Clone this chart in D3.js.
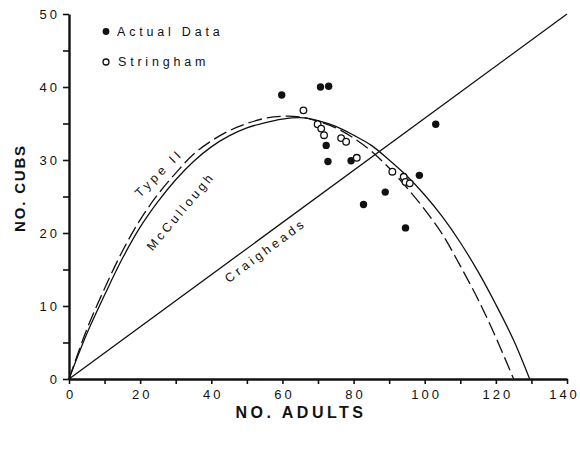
<!DOCTYPE html>
<html>
<head>
<meta charset="utf-8">
<script src="https://cdn.jsdelivr.net/npm/d3@7"></script>
<style>
  body { margin: 0; background: #fff; }
  svg text { font-family: "Liberation Sans", Arial, sans-serif; fill: #111; }
</style>
</head>
<body>
<svg id="chart" width="580" height="449"></svg>
<script>
// observed points
var actualData = [
  [59.8, 38.9], [70.7, 40.0], [73.0, 40.1], [72.3, 32.0], [72.8, 29.8],
  [79.3, 29.9], [103.1, 34.9], [98.5, 27.9], [88.9, 25.6], [82.8, 23.9], [94.6, 20.7]
];
var stringham = [
  [65.9, 36.8], [69.9, 34.9], [70.9, 34.3], [71.7, 33.4], [76.5, 33.0], [77.9, 32.5],
  [80.9, 30.3], [90.9, 28.4], [94.1, 27.7], [94.6, 27.0], [95.8, 26.8]
];

// model curves
var mcCullough = [
  [0, 0], [5, 6.2], [10, 11.5], [15, 16.5], [20, 20.8], [25, 24.3], [30, 27.3],
  [35, 29.8], [40, 31.8], [45, 33.3], [50, 34.4], [55, 35.1], [60, 35.6], [65, 35.8],
  [70, 35.4], [75, 34.6], [80, 33.4], [85, 32.0], [90, 30.0], [95, 27.8], [100, 25.2],
  [105, 22.2], [110, 18.7], [115, 14.7], [120, 10.2], [125, 5.3], [129.5, 0]
];
var typeII = [
  [0, 0], [5, 6.8], [10, 12.4], [15, 17.5], [20, 21.8], [25, 25.3], [30, 28.2],
  [35, 30.8], [40, 32.6], [45, 34.0], [50, 35.0], [55, 35.7], [60, 36.0], [65, 35.9],
  [70, 35.3], [75, 34.4], [80, 33.0], [85, 31.2], [90, 28.9], [95, 26.2], [100, 23.2],
  [105, 19.8], [110, 15.5], [115, 10.9], [120, 5.7], [125, 0]
];
var craigheads = [[0, 0], [140, 50]];

var xTicks = d3.range(0, 141, 10);
var yTicks = d3.range(0, 51, 5);

var svg = d3.select('#chart');

var x = d3.scaleLinear().domain([0, 140]).range([69, 567]);
var y = d3.scaleLinear().domain([0, 50]).range([379, 14]);

var line = d3.line()
  .x(function(d) { return x(d[0]); })
  .y(function(d) { return y(d[1]); })
  .curve(d3.curveCatmullRom);

// Craigheads straight line
svg.append('path')
  .attr('d', d3.line().x(function(d){ return x(d[0]); }).y(function(d){ return y(d[1]); })(craigheads))
  .style('fill', 'none')
  .style('stroke', '#111')
  .style('stroke-width', 1.3);

// McCullough (solid) and Type II (dashed)
svg.append('path')
  .attr('d', line(mcCullough))
  .style('fill', 'none')
  .style('stroke', '#111')
  .style('stroke-width', 1.3);
svg.append('path')
  .attr('d', line(typeII))
  .style('fill', 'none')
  .style('stroke', '#111')
  .style('stroke-width', 1.3)
  .style('stroke-dasharray', '14,5');

// axes
var xAxis = svg.append('g')
  .attr('transform', 'translate(0,' + y(0) + ')')
  .call(d3.axisBottom(x).tickValues(xTicks).tickSize(5).tickSizeOuter(0).tickPadding(6)
    .tickFormat(function(d) { return d % 20 === 0 ? d : ''; }));
var yAxis = svg.append('g')
  .attr('transform', 'translate(' + x(0) + ',0)')
  .call(d3.axisLeft(y).tickValues(yTicks).tickSize(6).tickSizeOuter(0).tickPadding(3)
    .tickFormat(function(d) { return d % 10 === 0 ? d : ''; }));

[xAxis, yAxis].forEach(function(g) {
  g.select('.domain').style('stroke', '#111').style('stroke-width', 2.4);
  g.selectAll('.tick line').style('stroke', '#111').style('stroke-width', 1.6);
  g.selectAll('.tick text')
    .style('font-size', '13px')
    .style('letter-spacing', '3px')
    .style('font-family', '"Liberation Sans", Arial, sans-serif')
    .style('fill', '#111');
});
xAxis.selectAll('.tick text').attr('dx', function(d) { return d === 140 ? '-3px' : '1.5px'; });

// data points
svg.selectAll('.actual')
  .data(actualData)
  .enter().append('circle')
  .attr('class', 'actual')
  .attr('cx', function(d) { return x(d[0]); })
  .attr('cy', function(d) { return y(d[1]); })
  .attr('r', 3.7)
  .style('fill', '#111');
svg.selectAll('.stringham')
  .data(stringham)
  .enter().append('circle')
  .attr('class', 'stringham')
  .attr('cx', function(d) { return x(d[0]); })
  .attr('cy', function(d) { return y(d[1]); })
  .attr('r', 3.3)
  .style('fill', '#fff')
  .style('stroke', '#111')
  .style('stroke-width', 1.3);

// legend
svg.append('circle').attr('cx', 106).attr('cy', 31.5).attr('r', 3.4).style('fill', '#111');
svg.append('circle').attr('cx', 106).attr('cy', 62).attr('r', 3).style('fill', '#fff')
  .style('stroke', '#111').style('stroke-width', 1.3);
svg.append('text').attr('x', 117).attr('y', 36).text('Actual Data')
  .style('font-size', '12.5px').style('letter-spacing', '3.8px');
svg.append('text').attr('x', 118).attr('y', 66).text('Stringham')
  .style('font-size', '12.5px').style('letter-spacing', '3.8px');

// curve labels
svg.append('text').attr('transform', 'translate(162,176) rotate(-45)')
  .attr('text-anchor', 'middle').text('Type II')
  .style('font-size', '12.5px').style('letter-spacing', '3.5px');
svg.append('text').attr('transform', 'translate(184,214) rotate(-50)')
  .attr('text-anchor', 'middle').text('McCullough')
  .style('font-size', '12.5px').style('letter-spacing', '3.2px');
svg.append('text').attr('transform', 'translate(268,254) rotate(-36.5)')
  .attr('text-anchor', 'middle').text('Craigheads')
  .style('font-size', '12.5px').style('letter-spacing', '3.4px');

// axis titles
svg.append('text').attr('transform', 'translate(25,188) rotate(-90)')
  .attr('text-anchor', 'middle').text('NO. CUBS')
  .style('font-size', '15px').style('font-weight', 'bold').style('letter-spacing', '1.8px');
svg.append('text').attr('x', 301).attr('y', 418)
  .attr('text-anchor', 'middle').text('NO. ADULTS')
  .style('font-size', '16px').style('font-weight', 'bold').style('letter-spacing', '3.5px');
</script>
</body>
</html>
